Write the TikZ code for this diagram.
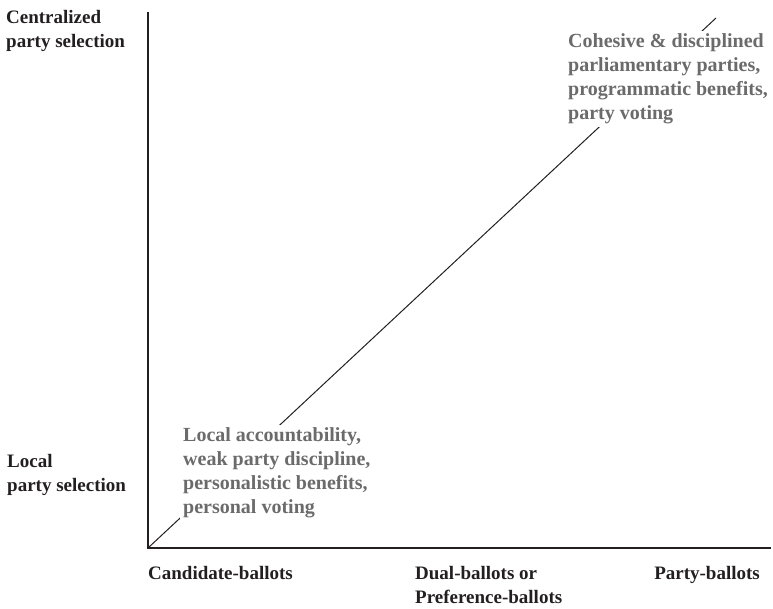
\documentclass[tikz,border=0pt]{standalone}
\usepackage{fontspec}
\setmainfont{Liberation Serif}
\definecolor{inkdark}{HTML}{231F20}
\definecolor{inkgray}{HTML}{6B6B6B}

\begin{document}
\begin{tikzpicture}[x=1pt,y=-1pt,
    lbl/.style={inner sep=0pt, align=left, text=inkdark, font=\bfseries\fontsize{19}{24}\selectfont},
    effect/.style={anchor=north west, inner sep=3pt, align=left, fill=white, text=inkgray, font=\bfseries\fontsize{20}{24}\selectfont}]
    \useasboundingbox (0,0) rectangle (773,609);
    \coordinate (o) at (148,548);
    \coordinate (ytop) at (148,12);
    \coordinate (xend) at (771,548);
    \coordinate (tip) at (716,18);
    \draw[line width=1.8pt, inkdark] (ytop) -- (o) -- (xend);
    \draw[line width=1pt, inkdark] (o) -- (tip);
    % effects along the diagonal
    \node[effect] (personal) at (180,424.5) {Local accountability,\\weak party discipline,\\personalistic benefits,\\personal voting};
    \node[effect] (party) at (565,30.5) {Cohesive \& disciplined\\parliamentary parties,\\programmatic benefits,\\party voting};
    % axis labels
    \node[lbl, anchor=north west] (central) at (6,10) {Centralized\\party selection};
    \node[lbl, anchor=north west] (local) at (7,454) {Local\\party selection};
    \node[lbl, anchor=base west] (cand) at (148,579) {Candidate-ballots};
    \node[lbl, anchor=north west] (dual) at (415,566) {Dual-ballots or\\Preference-ballots};
    \node[lbl, anchor=base east] (partyb) at (760,579) {Party-ballots};
\end{tikzpicture}
\end{document}
